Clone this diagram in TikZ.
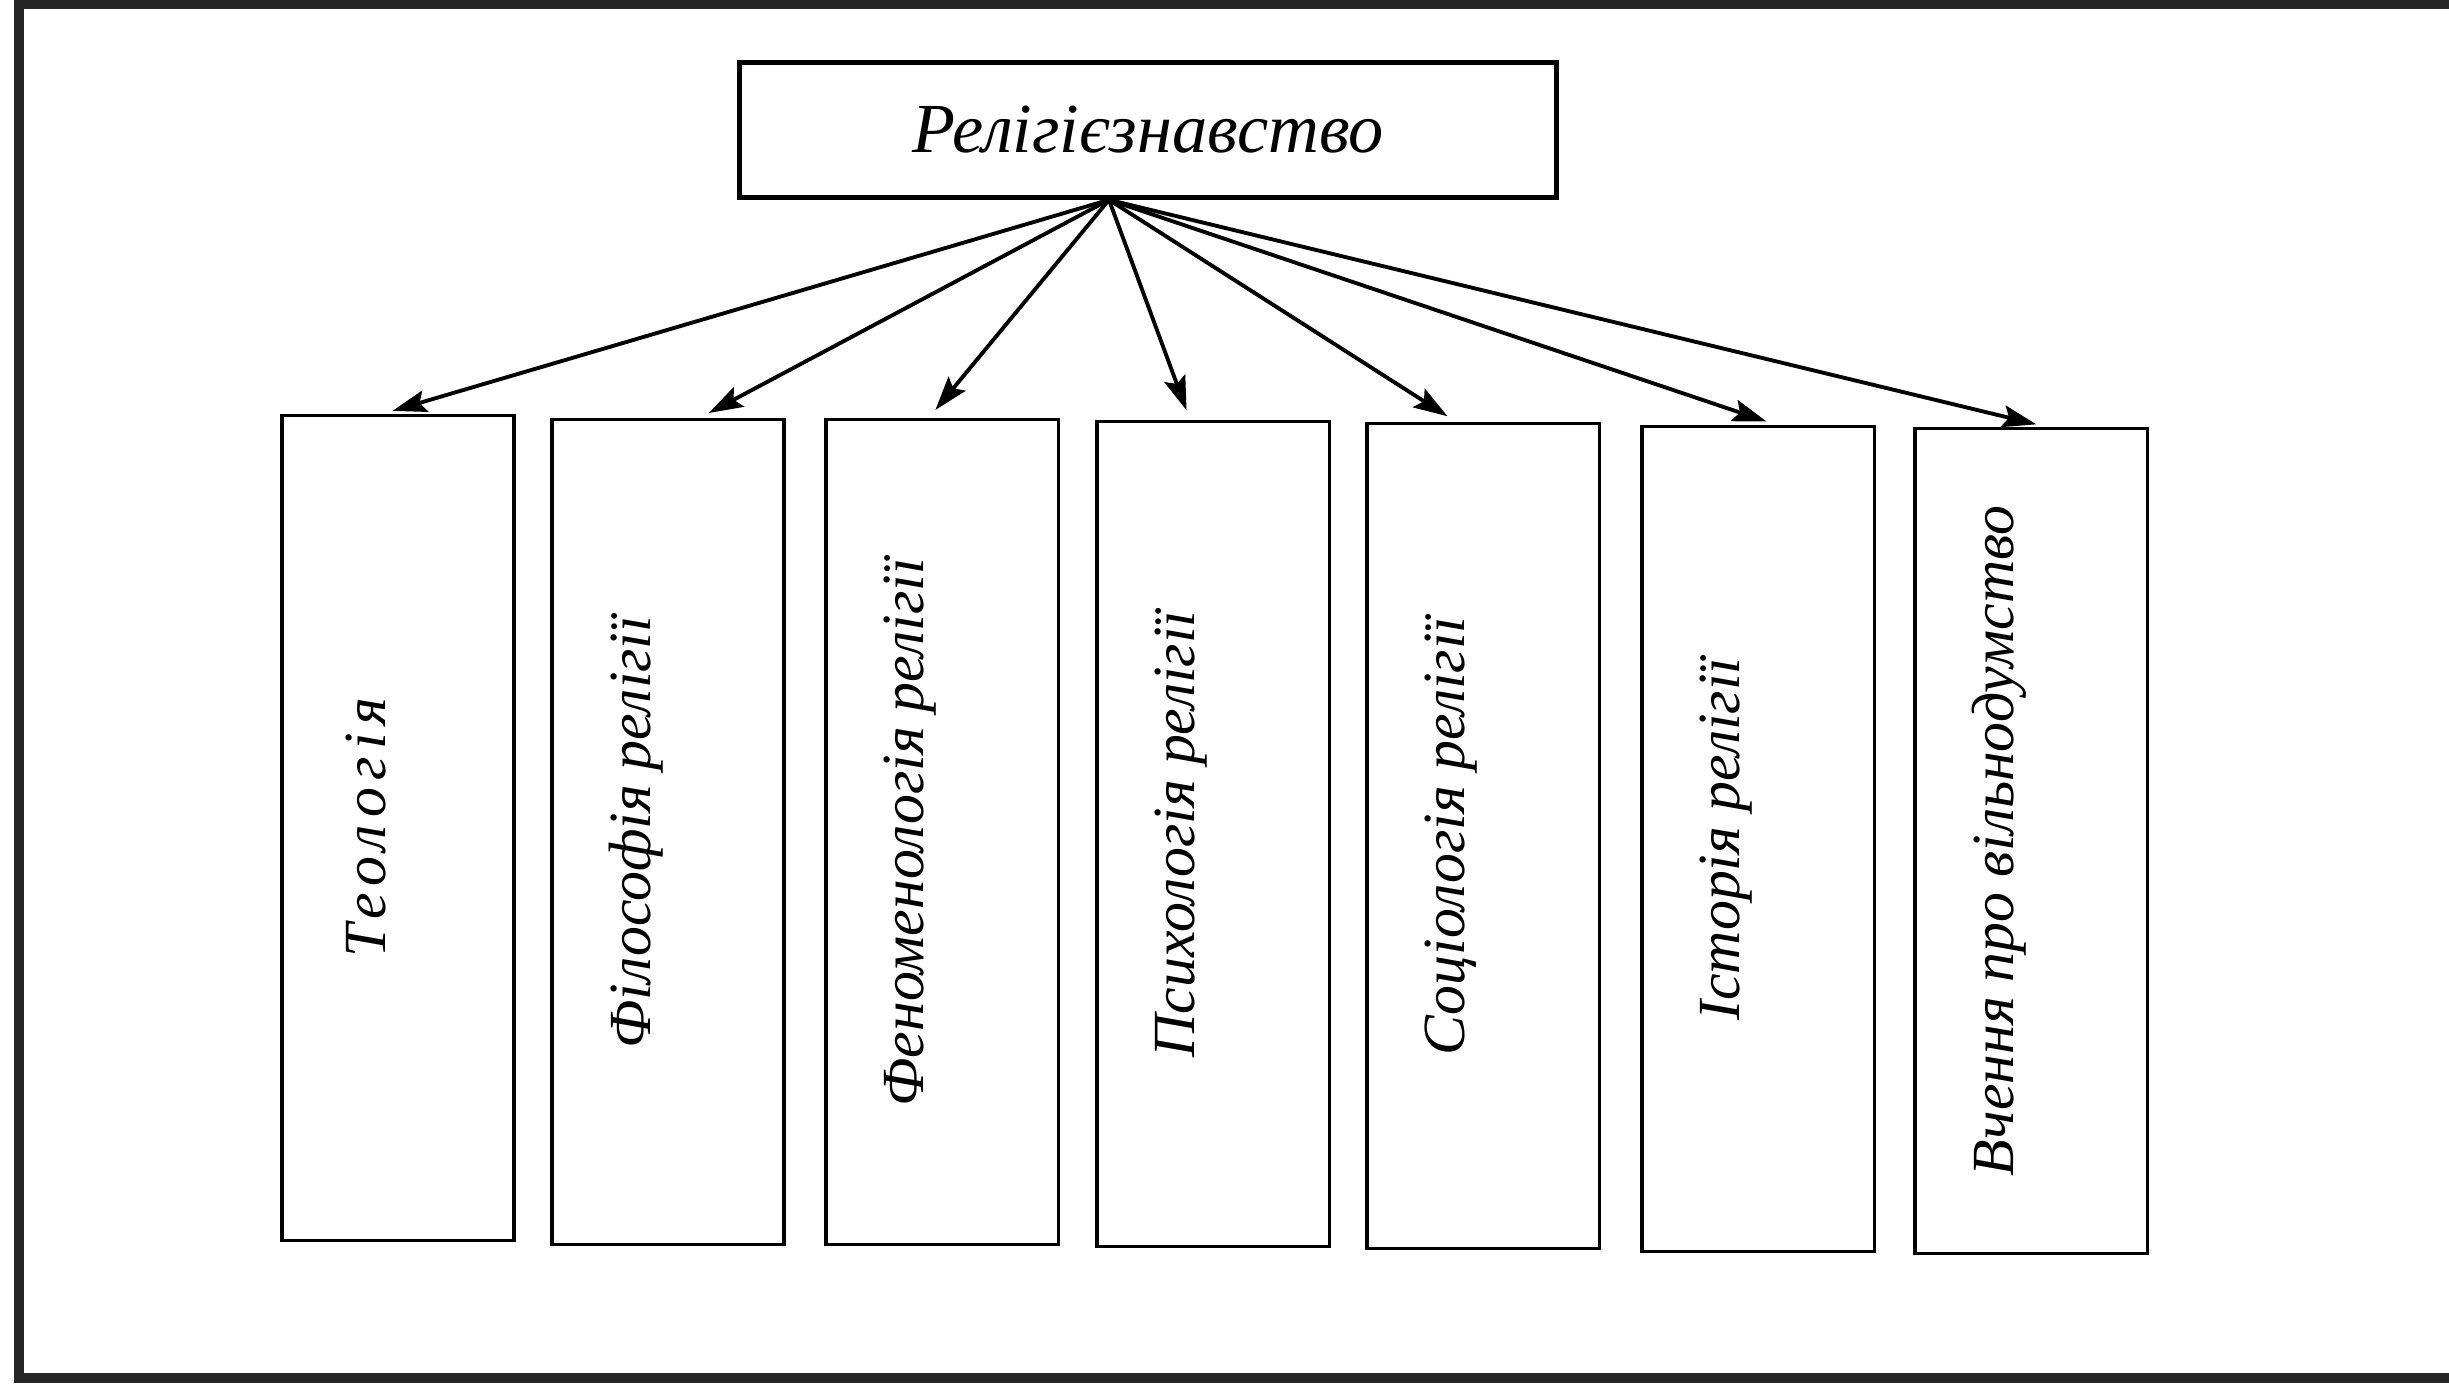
\documentclass[tikz,border=0pt]{standalone}
\usepackage{fontspec}
\setmainfont{Liberation Serif}
\usetikzlibrary{arrows.meta}
\tikzset{
    every node/.style={font=\fontsize{17}{20}\selectfont\itshape},
    box/.style={draw, rectangle, line width=0.9pt, minimum width=2.32cm, minimum height=8.25cm},
    branch/.style={-{Stealth[length=0.34cm, width=0.22cm, inset=0.06cm]}, line width=1.1pt, shorten >=0.1cm}
}

\begin{document}
\begin{tikzpicture}[x=0.01cm, y=-0.01cm]
        \useasboundingbox (0,0) rectangle (2449,1390);
        \draw[line width=3pt, black!85] (19,4) rectangle (2470,1378);

        \node[draw, rectangle, line width=1.3pt, minimum width=8.16cm, minimum height=1.35cm, font=\fontsize{20}{24}\selectfont\itshape] (rel) at (1148,130) {Релігієзнавство};
        \coordinate (hub) at ([xshift=-0.39cm]rel.south);

        \node[box] (teol) at (398,828) {};
        \node[box] (fil) at (668,832) {};
        \node[box] (fen) at (942,832) {};
        \node[box] (psy) at (1213,834) {};
        \node[box] (soc) at (1483,836) {};
        \node[box] (ist) at (1758,839) {};
        \node[box] (vch) at (2031,841) {};

        \node[rotate=90] (teolT) at ([xshift=-0.32cm]teol.center) {\addfontfeatures{LetterSpace=12}Теологія};
        \node[rotate=90] (filT) at ([xshift=-0.32cm]fil.center) {Філософія релігії};
        \node[rotate=90] (fenT) at ([xshift=-0.32cm]fen.center) {Феноменологія релігії};
        \node[rotate=90] (psyT) at ([xshift=-0.32cm]psy.center) {Психологія релігії};
        \node[rotate=90] (socT) at ([xshift=-0.32cm]soc.center) {Соціологія релігії};
        \node[rotate=90] (istT) at ([xshift=-0.32cm]ist.center) {Історія релігії};
        \node[rotate=90] (vchT) at ([xshift=-0.32cm]vch.center) {Вчення про вільнодумство};

        \draw[branch] (hub) -- ([xshift=-0.15cm]teol.north);
        \draw[branch] (hub) -- ([xshift=0.32cm]fil.north);
        \draw[branch] (hub) -- ([xshift=-0.13cm]fen.north);
        \draw[branch] (hub) -- ([xshift=-0.23cm]psy.north);
        \draw[branch] (hub) -- ([xshift=-0.27cm]soc.north);
        \draw[branch] (hub) -- ([xshift=0.18cm]ist.north);
        \draw[branch] (hub) -- ([xshift=0.15cm]vch.north);
    \end{tikzpicture}
\end{document}
